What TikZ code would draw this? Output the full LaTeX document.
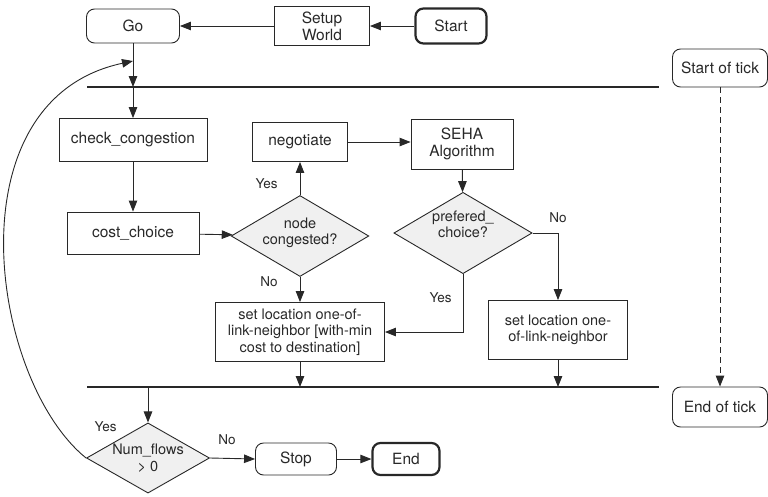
\documentclass[tikz,border=0pt]{standalone}
\usepackage{fontspec}
\setmainfont{TeX Gyre Heros}
\usepackage{xcolor}
\definecolor{ink}{RGB}{40,40,40}
\definecolor{diafill}{RGB}{240,240,240}
\usepackage{tikz}
\usetikzlibrary{arrows.meta}
\usetikzlibrary{shapes.geometric}
\newcommand{\boxfont}{\fontsize{15.5}{17}\selectfont}
\newcommand{\smallfont}{\fontsize{14.5}{16.5}\selectfont}
\newcommand{\labelfont}{\fontsize{13.5}{15}\selectfont}
\tikzset{
    common/.style={draw=ink, text=ink, line width=0.9pt, inner sep=0pt, align=center, font=\boxfont},
    proc/.style={common, rectangle},
    term/.style={common, rectangle, rounded corners=8pt},
    terminal/.style={term, line width=2.2pt},
    decision/.style={common, diamond, aspect=1.7, fill=diafill, font=\smallfont},
    raised/.style={text depth=#1},
    lbl/.style={text=ink, inner sep=0pt, font=\labelfont},
    flow/.style={-{Triangle[length=11pt, width=8.5pt]}, draw=ink, line width=0.9pt},
    tickbar/.style={draw=ink, line width=2.8pt},
    tickline/.style={flow, dash pattern=on 6pt off 4pt}
}
\begin{document}
\begin{tikzpicture}[x=1pt, y=-1pt]
    \useasboundingbox (0,0) rectangle (768,496);

    \node[terminal, minimum width=71pt, minimum height=35pt] (start) at (451,26) {Start};
    \node[proc, minimum width=95pt, minimum height=39pt] (setup) at (322,26) {Setup\\World};
    \node[term, minimum width=93pt, minimum height=34pt] (go) at (133,26) {Go};
    \node[proc, minimum width=148pt, minimum height=43pt] (check) at (133,140) {check\_congestion};
    \node[proc, minimum width=132pt, minimum height=42pt] (cost) at (133,233) {cost\_choice};
    \node[decision, raised=10pt, minimum width=132pt, minimum height=77pt] (cong) at (300,236) {node\\congested?};
    \node[proc, minimum width=95pt, minimum height=39pt] (nego) at (300,142) {negotiate};
    \node[proc, minimum width=102pt, minimum height=50pt] (seha) at (462,144) {SEHA\\Algorithm};
    \node[decision, raised=18pt, minimum width=138pt, minimum height=79pt] (pref) at (463,233) {prefered\_\\choice?};
    \node[proc, font=\smallfont, minimum width=169pt, minimum height=59pt] (set-min) at (300,332)
        {set location one-of-\\link-neighbor [with-min\\cost to destination]};
    \node[proc, font=\smallfont, minimum width=139pt, minimum height=59pt] (set-any) at (558,330)
        {set location one-\\of-link-neighbor};
    \node[decision, minimum width=123pt, minimum height=70pt] (flows) at (148,458) {Num\_flows\\\textgreater{} 0};
    \node[term, minimum width=81pt, minimum height=32pt] (stop) at (296,459) {Stop};
    \node[terminal, minimum width=67pt, minimum height=32pt] (end) at (406,459) {End};
    \node[term, minimum width=95pt, minimum height=38pt] (tick-start) at (720,68) {Start of tick};
    \node[term, minimum width=95pt, minimum height=40pt] (tick-end) at (720,407) {End of tick};

    \coordinate (bar-a-w) at (87,87);
    \coordinate (bar-a-e) at (659,87);
    \coordinate (bar-b-w) at (87,387);
    \coordinate (bar-b-e) at (659,387);
    \coordinate (loop-in) at (133,61);

    \draw[tickbar] (bar-a-w) -- (bar-a-e);
    \draw[tickbar] (bar-b-w) -- (bar-b-e);

    \draw[flow] (start) -- (setup);
    \draw[flow] (setup) -- (go);
    \draw[flow] (go.south) -- (go.south |- bar-a-w);
    \draw[flow] (go.south |- bar-a-w) -- (check.north);
    \draw[flow] (check) -- (cost);
    \draw[flow] (cost) -- (cong);
    \draw[flow] (cong.north) -- node[lbl, pos=0.35, left=22pt] {Yes} (nego.south);
    \draw[flow] (cong.south) -- node[lbl, pos=0.2, left=22pt] {No} (set-min.north);
    \draw[flow] (nego.east) -- (nego.east -| seha.west);
    \draw[flow] (seha) -- (pref);
    \draw[flow] (pref.east) -| node[lbl, pos=0.5, above=10pt] {No} (set-any.north);
    \draw[flow] (pref.south) |- node[lbl, pos=0.2, left=11pt] {Yes} (set-min.east);
    \draw[flow] (set-min.south) -- (set-min.south |- bar-b-w);
    \draw[flow] (set-any.south) -- (set-any.south |- bar-b-w);
    \draw[flow] (flows.north |- bar-b-w) -- (flows.north);
    \draw[flow] (flows.east) -- node[lbl, pos=0.38, above=13pt] {No} (stop.west);
    \draw[flow] (stop) -- (end);
    \draw[flow] (flows.west) .. controls (-10,380) and (-50,100) .. node[lbl, pos=0, anchor=south west, xshift=8pt, yshift=26pt] {Yes} (loop-in);
    \draw[tickline] (tick-start) -- (tick-end);
\end{tikzpicture}
\end{document}
